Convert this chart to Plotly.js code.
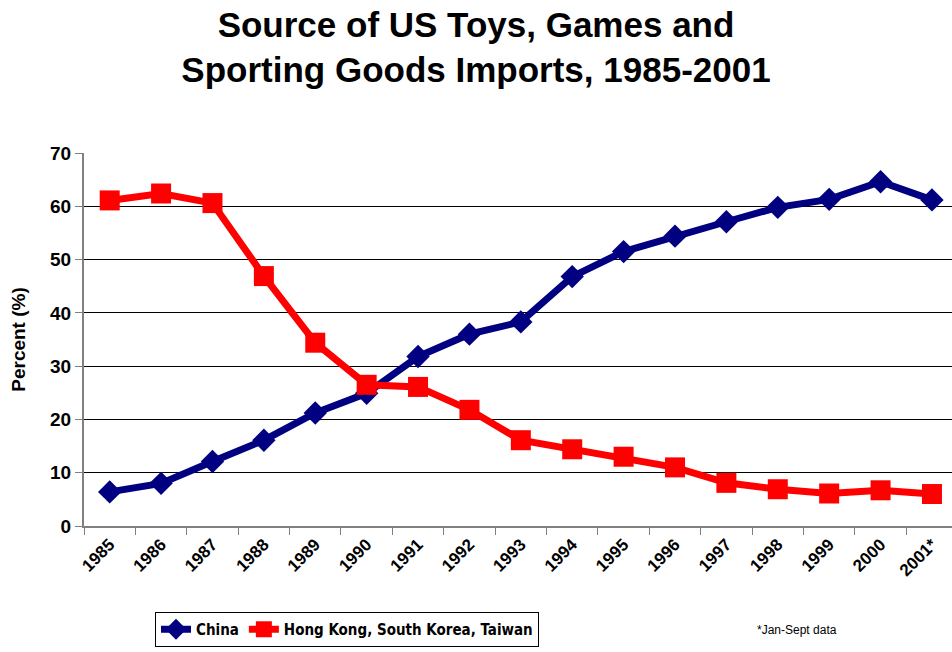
<!DOCTYPE html>
<html>
<head>
<meta charset="utf-8">
<script src="https://cdn.plot.ly/plotly-3.0.1.min.js"></script>
<style>html,body{margin:0;padding:0;background:#fff;}#chart{width:952px;height:652px;}</style>
</head>
<body>
<div id="chart"></div>
<script>
const years = ["1985","1986","1987","1988","1989","1990","1991","1992","1993","1994","1995","1996","1997","1998","1999","2000","2001*"];
const china = [6.4, 8.0, 12.1, 16.1, 21.2, 24.9, 31.8, 36.0, 38.3, 46.8, 51.5, 54.4, 57.1, 59.8, 61.3, 64.6, 61.2];
const hkSkTw = [61.1, 62.4, 60.6, 46.9, 34.4, 26.5, 26.1, 21.8, 16.1, 14.4, 13.0, 11.0, 8.1, 6.9, 6.1, 6.7, 6.0];
const seriesNames = ["China", "Hong Kong, South Korea, Taiwan"];
const yTicks = [0, 10, 20, 30, 40, 50, 60, 70];

const traces = [
  {
    x: years, y: china, name: seriesNames[0], type: "scatter", mode: "lines+markers",
    line: {color: "#000080", width: 7},
    marker: {symbol: "diamond", size: 18, color: "#000080"}
  },
  {
    x: years, y: hkSkTw, name: seriesNames[1], type: "scatter", mode: "lines+markers",
    line: {color: "#FF0000", width: 7},
    marker: {symbol: "square", size: 20, color: "#FF0000"}
  }
];

const layout = {
  width: 952, height: 652,
  margin: {l: 84, r: 0, t: 153, b: 126},
  paper_bgcolor: "#fff", plot_bgcolor: "#fff",
  font: {family: "Liberation Sans, Arial, sans-serif", color: "#000"},
  title: {
    text: "Source of US Toys, Games and<br>Sporting Goods Imports, 1985-2001",
    font: {size: 35, family: "Liberation Sans, Arial, sans-serif", weight: "bold", color: "#000"},
    x: 0.5, xref: "container", xanchor: "center",
    y: 0.9433, yref: "container", yanchor: "top"
  },
  xaxis: {
    type: "category",
    range: [-0.5, 16.39],
    tickson: "boundaries",
    ticks: "outside", ticklen: 7, tickcolor: "#808080", tickwidth: 1,
    showline: true, linecolor: "#808080", linewidth: 2,
    showgrid: false, zeroline: false,
    tickangle: -45,
    tickfont: {size: 17, weight: "bold", family: "Liberation Sans, Arial, sans-serif"}
  },
  yaxis: {
    range: [0, 70],
    tickvals: yTicks,
    ticks: "outside", ticklen: 7, tickcolor: "#808080", tickwidth: 1,
    showline: true, linecolor: "#808080", linewidth: 2,
    showgrid: true, gridcolor: "#000", gridwidth: 1,
    zeroline: false,
    tickfont: {size: 19, weight: "bold", family: "Liberation Sans, Arial, sans-serif"},
    title: {text: "Percent (%)", font: {size: 19, weight: "bold"}, standoff: 19}
  },
  showlegend: true,
  legend: {
    orientation: "h",
    x: 0.0818, xanchor: "left",
    y: -0.2306, yanchor: "top",
    bgcolor: "#fff", bordercolor: "#000", borderwidth: 1,
    font: {size: 15, weight: "bold", family: "DejaVu Sans Condensed, Liberation Sans Narrow, sans-serif"},
    itemwidth: 30
  },
  annotations: [
    {
      text: "*Jan-Sept data", xref: "paper", yref: "paper",
      x: 0.773, y: -0.279, xanchor: "left", yanchor: "middle",
      showarrow: false,
      font: {size: 12, family: "Liberation Sans, Arial, sans-serif"}
    }
  ]
};

Plotly.newPlot("chart", traces, layout, {displayModeBar: false, staticPlot: true});
</script>
</body>
</html>
